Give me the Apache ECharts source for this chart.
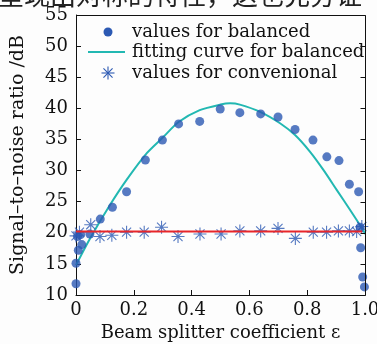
<!DOCTYPE html>
<html>
<head>
<meta charset="utf-8">
<script src="https://cdn.jsdelivr.net/npm/echarts@6/dist/echarts.min.js"></script>
<style>
  html, body { margin: 0; padding: 0; background: #fdfdfd; }
  #chart { width: 377px; height: 344px; }
</style>
</head>
<body>
<div id="chart"></div>
<script>
// Beam splitter coefficient (x) and SNR in dB (y)
const balancedEps = [0, 0, 0.005, 0.008, 0.016, 0.02, 0.048, 0.084, 0.126, 0.175, 0.24, 0.299, 0.355, 0.428, 0.499, 0.567, 0.639, 0.699, 0.758, 0.82, 0.868, 0.91, 0.946, 0.978, 0.983, 0.985, 0.992, 0.998];
const balancedSnr = [11.8, 15.1, 19.4, 17.2, 19.7, 18.1, 19.8, 22.2, 24.1, 26.6, 31.7, 34.9, 37.5, 37.9, 39.9, 39.3, 39.1, 38.6, 36.6, 34.9, 32.2, 31.6, 27.8, 26.6, 20.9, 17.6, 12.9, 11.3];

const fitEps = [0, 0.05, 0.118, 0.175, 0.245, 0.30, 0.355, 0.428, 0.50, 0.533, 0.567, 0.639, 0.706, 0.758, 0.81, 0.856, 0.902, 0.948, 0.994, 1.0];
const fitSnr = [14.8, 19.2, 24.5, 28.5, 32.8, 35.3, 37.8, 39.7, 40.6, 40.8, 40.6, 39.4, 37.6, 35.7, 33.0, 30.1, 26.9, 23.7, 20.4, 19.8];

const convEps = [0, 0.012, 0.051, 0.083, 0.124, 0.175, 0.236, 0.296, 0.353, 0.429, 0.502, 0.567, 0.639, 0.699, 0.759, 0.821, 0.867, 0.908, 0.946, 0.971, 0.989];
const convSnr = [19.5, 20.1, 21.3, 19.4, 19.6, 20.1, 20.1, 20.9, 19.4, 19.8, 19.8, 20.3, 20.3, 20.7, 19.1, 20.1, 20.1, 20.3, 20.3, 20.2, 21.0];

const convMeanEps = [0, 0.99];
const convMeanSnr = [20.2, 20.2];

const xTicks = [0, 0.2, 0.4, 0.6, 0.8, 1.0];
const yTicks = [10, 15, 20, 25, 30, 35, 40, 45, 50, 55];

const legendNames = ['values for balanced', 'fitting curve for balanced', 'values for convenional'];

const BLUE = '#2c59b3';
const CYAN = '#22b8b2';
const RED = '#e8262a';
const INK = '#111';
const SERIF = '"DejaVu Serif", "Liberation Serif", serif';
const STAR = 'path://M0,-10 L0,10 M-10,0 L10,0 M-7,-7 L7,7 M-7,7 L7,-7';

const X_MIN = xTicks[0], X_MAX = xTicks[xTicks.length - 1];
const Y_MIN = yTicks[0], Y_MAX = yTicks[yTicks.length - 1];

const W = 377, H = 344;
const GRID = { left: 76, right: 12, top: 15, bottom: 49 };

const zip = (xs, ys) => xs.map((x, i) => [x, ys[i]]);

// asterisk glyph for the legend, built from four strokes
function starStrokes(cx, cy, r) {
  const d = r * 0.7;
  return [[0, -r, 0, r], [-r, 0, r, 0], [-d, -d, d, d], [-d, d, d, -d]].map(s => ({
    type: 'line', z: 10,
    shape: { x1: cx + s[0], y1: cy + s[1], x2: cx + s[2], y2: cy + s[3] },
    style: { stroke: BLUE, lineWidth: 1.1 }
  }));
}

const legendText = (y, text) => ({
  type: 'text', x: 132, y: y, z: 10,
  style: { text: text, fill: INK, font: '18px ' + SERIF, verticalAlign: 'middle' }
});

const chart = echarts.init(document.getElementById('chart'), null, { renderer: 'canvas' });

const axisLine = () => ({ show: true, onZero: false, lineStyle: { color: INK, width: 1 } });
const innerTick = () => ({ show: true, inside: true, length: 5, lineStyle: { color: INK } });

chart.setOption({
  backgroundColor: '#fdfdfd',
  animation: false,
  grid: {
    left: GRID.left, right: GRID.right, top: GRID.top, bottom: GRID.bottom,
    outerBoundsMode: 'none', containLabel: false
  },
  xAxis: [{
    type: 'value', min: X_MIN, max: X_MAX, interval: 0.2,
    axisLine: axisLine(), axisTick: innerTick(),
    axisLabel: {
      color: INK, fontFamily: SERIF, fontSize: 18, margin: 6,
      showMinLabel: true, showMaxLabel: true,
      formatter: v => (v === 0 ? '0' : v.toFixed(1))
    },
    splitLine: { show: false },
    name: 'Beam splitter coefficient ε', nameLocation: 'middle', nameGap: 24,
    nameTextStyle: { color: INK, fontFamily: SERIF, fontSize: 18 }
  }],
  yAxis: [{
    type: 'value', min: Y_MIN, max: Y_MAX, interval: 5,
    axisLine: axisLine(), axisTick: innerTick(),
    axisLabel: { color: INK, fontFamily: SERIF, fontSize: 18, margin: 8, showMinLabel: true, showMaxLabel: true },
    splitLine: { show: false },
    name: 'Signal–to–noise ratio /dB', nameLocation: 'middle', nameGap: 48,
    nameTextStyle: { color: INK, fontFamily: SERIF, fontSize: 19 }
  }],
  series: [{
    name: legendNames[1], type: 'line', data: zip(fitEps, fitSnr),
    smooth: 0.25, showSymbol: false, lineStyle: { color: CYAN, width: 2 }, z: 2
  }, {
    name: legendNames[2], type: 'scatter', data: zip(convEps, convSnr), clip: false,
    symbol: STAR, symbolSize: 13,
    itemStyle: { color: 'transparent', borderColor: BLUE, borderWidth: 1.1 }, z: 3
  }, {
    name: legendNames[0], type: 'scatter', data: zip(balancedEps, balancedSnr), clip: false,
    symbol: 'circle', symbolSize: 9, itemStyle: { color: BLUE }, z: 4
  }, {
    name: 'conventional level', type: 'line', data: zip(convMeanEps, convMeanSnr),
    showSymbol: false, lineStyle: { color: RED, width: 2 }, z: 5
  }]
});

// closing frame (top and right edges) with inward ticks on the right
(function drawFrame() {
  const crisp = v => Math.round(v) + 0.5;
  const safe = (fn, fallback) => {
    let v;
    try { v = fn(); } catch (e) { v = NaN; }
    if (Array.isArray(v)) v = v[0];
    return Number.isFinite(v) ? v : fallback;
  };
  const boxL = GRID.left, boxR = W - GRID.right, boxT = GRID.top, boxB = H - GRID.bottom;
  const toY = v => safe(() => chart.convertToPixel({ yAxisIndex: 0 }, v),
    boxB - (v - Y_MIN) / (Y_MAX - Y_MIN) * (boxB - boxT));
  const toX = v => safe(() => chart.convertToPixel({ xAxisIndex: 0 }, v),
    boxL + (v - X_MIN) / (X_MAX - X_MIN) * (boxR - boxL));

  const plotL = crisp(toX(X_MIN)), plotR = crisp(toX(X_MAX));
  const plotT = crisp(toY(Y_MAX)), plotB = crisp(toY(Y_MIN));
  const edge = (x1, y1, x2, y2) => ({
    type: 'line', z: 20, silent: true,
    shape: { x1: x1, y1: y1, x2: x2, y2: y2 }, style: { stroke: INK, lineWidth: 1 }
  });
  const frame = [edge(plotL, plotT, plotR, plotT), edge(plotR, plotT, plotR, plotB)];
  yTicks.forEach(v => {
    const y = crisp(toY(v));
    frame.push(edge(plotR - 5, y, plotR, y));
  });

  chart.setOption({
    graphic: [
      // running text of the page above the figure
      { type: 'text', x: -2, y: 8, z: 1,
        style: { text: '呈现出对称的特性，这也充分证', fill: '#222', font: '26px "Noto Sans CJK SC"', verticalAlign: 'bottom' } },
      // legend
      { type: 'circle', shape: { cx: 108, cy: 32, r: 4.5 }, style: { fill: BLUE }, z: 10 },
      legendText(32, legendNames[0]),
      { type: 'line', shape: { x1: 88, y1: 52, x2: 125, y2: 52 }, style: { stroke: CYAN, lineWidth: 2 }, z: 10 },
      legendText(52, legendNames[1])
    ].concat(starStrokes(108, 73, 6.5), [legendText(73, legendNames[2])], frame)
  });
})();
</script>
</body>
</html>
